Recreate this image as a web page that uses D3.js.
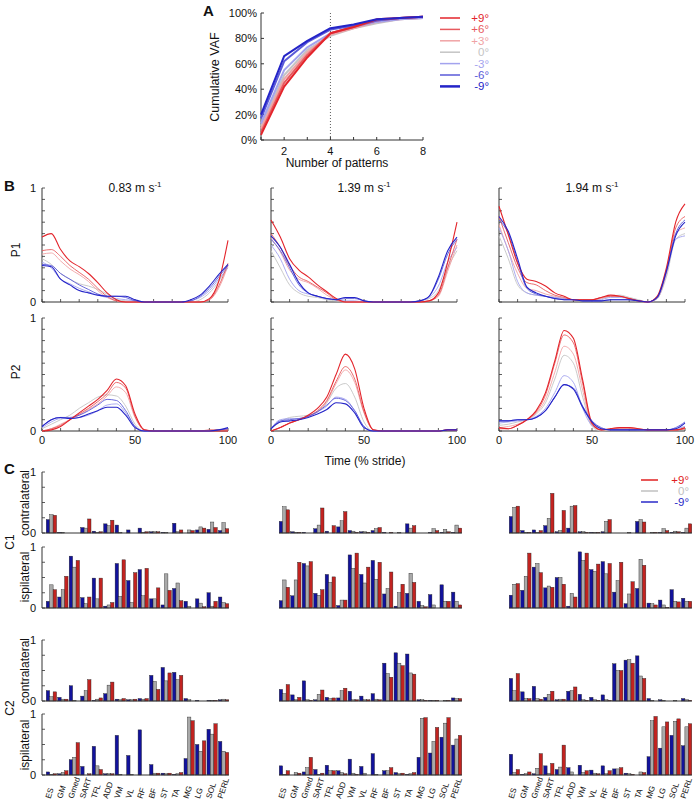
<!DOCTYPE html>
<html><head><meta charset="utf-8">
<script src="https://cdn.jsdelivr.net/npm/d3@7"></script>
<style>
body{margin:0;background:#fff}
svg{display:block}
text{font-family:"Liberation Sans",Arial,Helvetica,sans-serif;fill:#111}
</style>
</head><body><svg id="chart" width="698" height="802"></svg>
<script>
// ---------------- DATA ----------------
const conditions = ["+9°","+6°","+3°","0°","-3°","-6°","-9°"];
const condColors = ["#e3242b","#e75a5e","#f0a3a5","#c4c4c4","#a3a3ee","#5a5ad8","#2424c8"];

// Panel A: cumulative VAF (%) vs number of patterns
const patterns = [1,2,3,4,5,6,7,8];
const vafP9 = [4,42,65,84,89,95,96,97];
const vafP6 = [6,45,67,84,89,94,96,97];
const vafP3 = [9,48,69,83,88,93,95,96];
const vaf0  = [11,51,71,82,88,92,95,96];
const vafM3 = [13,55,73,84,89,93,95,96];
const vafM6 = [17,62,77,87,90,94,96,97];
const vafM9 = [20,66,78,88,91,95,96,97];
const vafYTicks = [0,20,40,60,80,100];
const vafXTicks = [2,4,6,8];

// Panel B: pattern activations, rows = +9,+6,+3,0,-3,-6,-9
const timePct = [0,5,10,15,20,25,30,35,40,45,50,55,60,65,70,75,80,85,90,95,100];
const speeds = ["0.83","1.39","1.94"];
const p1_083 = [
 [0.57,0.60,0.46,0.36,0.31,0.25,0.17,0.08,0.02,0,0,0,0,0,0,0,0,0,0.03,0.18,0.54],
 [0.45,0.46,0.40,0.32,0.26,0.20,0.12,0.05,0.01,0,0,0,0,0,0,0,0,0,0.02,0.14,0.34],
 [0.42,0.43,0.36,0.29,0.24,0.18,0.10,0.04,0.01,0,0,0,0,0,0,0,0,0,0.02,0.12,0.32],
 [0.38,0.33,0.25,0.20,0.16,0.14,0.11,0.07,0.02,0.01,0,0,0,0,0,0,0,0.02,0.08,0.18,0.32],
 [0.35,0.30,0.20,0.16,0.12,0.09,0.06,0.04,0.03,0.02,0.01,0,0,0,0,0,0.01,0.04,0.10,0.20,0.30],
 [0.33,0.32,0.25,0.20,0.15,0.11,0.07,0.05,0.05,0.04,0.01,0,0,0,0,0,0.01,0.05,0.12,0.22,0.32],
 [0.32,0.31,0.20,0.15,0.10,0.08,0.06,0.05,0.05,0.05,0.02,0,0,0,0,0,0.02,0.06,0.14,0.24,0.33]];
const p2_083 = [
 [0,0.01,0.04,0.10,0.16,0.22,0.28,0.36,0.46,0.40,0.15,0.01,0,0,0,0,0,0,0,0,0],
 [0,0.02,0.05,0.10,0.15,0.20,0.26,0.33,0.43,0.38,0.13,0.01,0,0,0,0,0,0,0.01,0.01,0.01],
 [0,0.02,0.06,0.10,0.14,0.19,0.24,0.31,0.39,0.34,0.12,0.01,0,0,0,0,0,0,0,0.01,0.01],
 [0.02,0.06,0.10,0.14,0.20,0.25,0.30,0.32,0.31,0.22,0.06,0,0,0,0,0,0,0,0,0.01,0.01],
 [0.03,0.08,0.11,0.11,0.12,0.14,0.18,0.23,0.24,0.16,0.04,0,0,0,0,0,0,0,0,0.01,0.02],
 [0.04,0.10,0.12,0.12,0.14,0.18,0.23,0.28,0.27,0.18,0.04,0,0,0,0,0,0,0,0,0.01,0.02],
 [0.04,0.10,0.12,0.11,0.12,0.15,0.18,0.21,0.21,0.14,0.03,0,0,0,0,0,0,0,0,0.01,0.03]];
const p1_139 = [
 [0.72,0.57,0.38,0.28,0.22,0.15,0.09,0.03,0,0,0,0,0,0,0,0,0,0.01,0.08,0.35,0.70],
 [0.60,0.48,0.32,0.22,0.18,0.13,0.08,0.02,0,0,0,0,0,0,0,0,0,0.01,0.06,0.30,0.55],
 [0.56,0.44,0.28,0.20,0.17,0.12,0.06,0.02,0,0,0,0,0,0,0,0,0,0.01,0.05,0.27,0.50],
 [0.45,0.30,0.15,0.08,0.05,0.04,0.02,0.01,0,0,0,0,0,0,0,0,0.01,0.03,0.10,0.30,0.45],
 [0.50,0.38,0.20,0.10,0.07,0.05,0.03,0.02,0.01,0.01,0,0,0,0,0,0,0.01,0.04,0.14,0.35,0.48],
 [0.55,0.45,0.30,0.15,0.08,0.05,0.03,0.02,0.03,0.03,0.01,0,0,0,0,0,0.01,0.05,0.20,0.42,0.55],
 [0.58,0.48,0.33,0.17,0.08,0.05,0.03,0.02,0.04,0.04,0.01,0,0,0,0,0,0.01,0.05,0.22,0.45,0.57]];
const p2_139 = [
 [0,0.03,0.07,0.10,0.14,0.20,0.30,0.50,0.68,0.55,0.20,0.01,0,0,0,0,0,0,0,0.01,0.01],
 [0,0.03,0.07,0.10,0.13,0.18,0.27,0.44,0.57,0.46,0.17,0.01,0,0,0,0,0,0,0,0.01,0.01],
 [0,0.03,0.07,0.10,0.13,0.17,0.26,0.42,0.54,0.43,0.16,0.01,0,0,0,0,0,0,0,0.01,0.01],
 [0.02,0.08,0.12,0.13,0.14,0.17,0.25,0.38,0.42,0.30,0.08,0,0,0,0,0,0,0,0,0.01,0.01],
 [0.02,0.10,0.11,0.11,0.13,0.17,0.22,0.30,0.28,0.18,0.04,0,0,0,0,0,0,0,0,0.01,0.01],
 [0.02,0.09,0.10,0.11,0.13,0.17,0.23,0.29,0.27,0.18,0.04,0,0,0,0,0,0,0,0,0.01,0.01],
 [0.02,0.08,0.09,0.10,0.12,0.15,0.19,0.25,0.24,0.16,0.03,0,0,0,0,0,0,0,0,0.01,0.01]];
const p1_194 = [
 [0.84,0.59,0.34,0.20,0.18,0.14,0.08,0.05,0.02,0.02,0.02,0.04,0.06,0.05,0.03,0.01,0,0.05,0.30,0.70,0.86],
 [0.75,0.52,0.30,0.17,0.15,0.10,0.06,0.04,0.02,0.02,0.02,0.04,0.05,0.05,0.03,0.01,0,0.04,0.27,0.65,0.75],
 [0.68,0.45,0.25,0.12,0.10,0.07,0.05,0.03,0.02,0.02,0.02,0.03,0.05,0.05,0.03,0.01,0,0.03,0.25,0.60,0.65],
 [0.58,0.38,0.15,0.08,0.06,0.05,0.04,0.03,0.02,0.02,0.01,0.03,0.05,0.06,0.04,0.02,0,0.03,0.22,0.55,0.60],
 [0.65,0.45,0.18,0.08,0.06,0.05,0.04,0.03,0.02,0.02,0.01,0.02,0.04,0.04,0.03,0.01,0,0.03,0.25,0.55,0.58],
 [0.72,0.60,0.35,0.12,0.07,0.05,0.03,0.02,0.02,0.01,0.01,0.01,0.02,0.02,0.02,0.01,0,0.04,0.28,0.60,0.72],
 [0.75,0.62,0.38,0.13,0.08,0.05,0.03,0.02,0.02,0.01,0.01,0.01,0.02,0.02,0.02,0.01,0,0.04,0.27,0.58,0.70]];
const p2_194 = [
 [0.03,0.02,0.05,0.10,0.18,0.34,0.62,0.89,0.82,0.45,0.07,0.01,0.02,0.03,0.03,0.02,0.01,0.01,0.01,0.01,0.03],
 [0.02,0.02,0.05,0.10,0.17,0.32,0.60,0.85,0.78,0.42,0.06,0.01,0.02,0.03,0.03,0.02,0.01,0.01,0.01,0.01,0.02],
 [0.03,0.04,0.06,0.10,0.16,0.28,0.52,0.75,0.68,0.36,0.05,0.01,0.01,0.02,0.02,0.01,0.01,0.01,0.01,0.01,0.02],
 [0.05,0.06,0.08,0.10,0.15,0.25,0.46,0.67,0.60,0.30,0.04,0,0.01,0.02,0.02,0.01,0.01,0.01,0.01,0.01,0.02],
 [0.07,0.08,0.09,0.10,0.13,0.20,0.34,0.49,0.43,0.20,0.05,0.02,0.01,0.01,0.01,0.01,0.01,0.01,0.01,0.02,0.04],
 [0.09,0.09,0.10,0.10,0.12,0.18,0.30,0.41,0.38,0.22,0.09,0.03,0.01,0.01,0.01,0.01,0.01,0.01,0.01,0.03,0.08],
 [0.09,0.09,0.10,0.10,0.12,0.18,0.30,0.41,0.37,0.21,0.08,0.02,0.01,0.01,0.01,0.01,0.01,0.01,0.01,0.02,0.07]];

// Panel C: muscle weightings; each = [-9° (blue), 0° (gray), +9° (red)]
const muscles = ["ES","GM","Gmed","SART","TFL","ADD","VM","VL","RF","BF","ST","TA","MG","LG","SOL","PERL"];
const barConds = ["-9°","0°","+9°"];
const c1Contra_083 = [
 [0.22,0.01,0,0.09,0.03,0.15,0.13,0.05,0.08,0.02,0.01,0.16,0,0.05,0.06,0.04],
 [0.30,0.01,0,0.08,0.01,0.12,0.01,0,0.01,0.02,0.01,0.02,0.05,0.10,0.18,0.17],
 [0.29,0,0,0.23,0.02,0.21,0,0,0.02,0.02,0,0.05,0.04,0.08,0.09,0.07]];
const c1Ipsi_083 = [
 [0.11,0.18,0.85,0.17,0.49,0.03,0.73,0.45,0.63,0.15,0.05,0.32,0.11,0.15,0.25,0.18],
 [0.38,0.30,0.67,0.07,0.15,0.05,0.19,0.09,0.20,0.15,0.56,0.41,0.03,0.08,0.03,0.09],
 [0.30,0.52,0.78,0.18,0.49,0.09,0.79,0.58,0.65,0.33,0.29,0.12,0,0.02,0.11,0.07]];
const c2Contra_083 = [
 [0.17,0.06,0.25,0.08,0.01,0.12,0.03,0.02,0.04,0.42,0.55,0.47,0.04,0.01,0.01,0.02],
 [0.07,0.03,0.01,0.17,0.03,0.26,0.02,0.02,0.03,0.32,0.33,0.35,0.02,0,0.01,0.03],
 [0.15,0.03,0,0.35,0.05,0.31,0.04,0.03,0.04,0.19,0.46,0.42,0,0,0.01,0.02]];
const c2Ipsi_083 = [
 [0.05,0.02,0.25,0.14,0.47,0.02,0.65,0.32,0.74,0.17,0.03,0.01,0.27,0.50,0.75,0.55],
 [0.01,0.04,0.29,0,0.15,0.02,0.01,0.01,0,0.03,0.02,0.02,0.95,0.39,0.67,0.39],
 [0.02,0.07,0.53,0.02,0.09,0.02,0,0,0,0.03,0.03,0.04,0.89,0.56,0.84,0.37]];
const c1Contra_139 = [
 [0.19,0.02,0.01,0.07,0.03,0.10,0.04,0.02,0.04,0.01,0,0.15,0,0.01,0.01,0.01],
 [0.43,0.01,0,0.13,0,0.20,0.03,0.02,0.07,0,0.01,0.08,0,0.07,0.06,0.13],
 [0.38,0.01,0,0.41,0.12,0.35,0.01,0.01,0.09,0.01,0,0.12,0,0.04,0.02,0.08]];
const c1Ipsi_139 = [
 [0.12,0.20,0.73,0.24,0.55,0.04,0.87,0.55,0.78,0.23,0.03,0.24,0.11,0.22,0.38,0.26],
 [0.46,0.46,0.69,0.21,0.42,0.13,0.65,0.41,0.47,0.32,0.25,0.57,0.04,0.05,0.11,0.11],
 [0.34,0.75,0.76,0.30,0.51,0.13,0.90,0.67,0.75,0.59,0.39,0.42,0.02,0,0.11,0.05]];
const c2Contra_139 = [
 [0.19,0.10,0.33,0.02,0.06,0.05,0.16,0.08,0.12,0.62,0.79,0.77,0.02,0.01,0,0.05],
 [0.12,0.02,0.02,0.11,0.04,0.17,0.02,0.02,0.03,0.45,0.62,0.46,0.02,0.01,0.01,0.04],
 [0.27,0.06,0.01,0.18,0.05,0.21,0.02,0.02,0.02,0.39,0.58,0.44,0.01,0.01,0.01,0.04]];
const c2Ipsi_139 = [
 [0.15,0,0.05,0.09,0.16,0.07,0.26,0.14,0.35,0.07,0.04,0.01,0.29,0.36,0.62,0.49],
 [0.01,0.04,0.12,0.01,0.07,0.04,0.03,0.03,0.01,0.07,0.02,0.02,0.93,0.55,0.85,0.59],
 [0.07,0.03,0.29,0.03,0.07,0.02,0.01,0,0,0.12,0.03,0.04,0.94,0.78,0.94,0.65]];
const c1Contra_194 = [
 [0.27,0.04,0.05,0.12,0.02,0.08,0.02,0.01,0.02,0,0,0.19,0,0.01,0.01,0.01],
 [0.42,0.01,0.01,0.24,0.04,0.44,0.02,0.01,0.19,0,0.01,0.22,0.01,0.07,0.03,0.08],
 [0.44,0.01,0.04,0.65,0.37,0.45,0.01,0.01,0.22,0,0,0.18,0.01,0.04,0.02,0.15]];
const c1Ipsi_194 = [
 [0.21,0.29,0.67,0.33,0.50,0.03,0.92,0.63,0.76,0.26,0.07,0.32,0.08,0.13,0.30,0.16],
 [0.39,0.52,0.73,0.36,0.50,0.24,0.78,0.60,0.56,0.45,0.23,0.80,0.07,0.05,0.11,0.11],
 [0.40,0.90,0.58,0.34,0.39,0.18,0.90,0.72,0.73,0.75,0.43,0.70,0.05,0.01,0.10,0.11]];
const c2Contra_194 = [
 [0.37,0.15,0.24,0.06,0.02,0.16,0.11,0.06,0.10,0.61,0.67,0.74,0.04,0.02,0,0.04],
 [0.17,0.04,0.04,0.11,0.03,0.17,0.02,0.02,0.02,0.50,0.68,0.41,0.01,0.01,0.01,0.02],
 [0.45,0.04,0.03,0.16,0.03,0.23,0.01,0.01,0.01,0.50,0.62,0.37,0,0,0,0.01]];
const c2Ipsi_194 = [
 [0.34,0.01,0.02,0.15,0.09,0.12,0.16,0.08,0.15,0.10,0.03,0,0.30,0.44,0.65,0.48],
 [0.04,0.02,0.11,0.03,0.13,0.05,0.04,0.03,0.02,0.10,0.02,0.05,0.89,0.79,0.88,0.79],
 [0.09,0.05,0.35,0.19,0.49,0,0.07,0.02,0.07,0.12,0.01,0.04,0.96,0.87,0.92,0.84]];

// ---------------- DRAWING ----------------
const svg = d3.select("#chart");
svg.append("rect").attr("width",698).attr("height",802).attr("fill","#fff");
const AX = "#333";

function txt(g, x, y, s, opt={}) {
  const t = g.append("text").attr("x",x).attr("y",y).text(s)
    .attr("font-size", opt.size || 11)
    .attr("text-anchor", opt.anchor || "start");
  if (opt.weight) t.attr("font-weight", opt.weight);
  if (opt.fill) t.style("fill", opt.fill);
  if (opt.rotate !== undefined) t.attr("transform", `rotate(${opt.rotate},${x},${y})`);
  return t;
}

// ===== Panel A =====
{
  const g = svg.append("g");
  const x = d3.scaleLinear().domain([1,8]).range([261,423]);
  const y = d3.scaleLinear().domain([0,100]).range([140,13]);
  const vafSeries = [vafP9,vafP6,vafP3,vaf0,vafM3,vafM6,vafM9];
  g.append("line").attr("x1",x(1)).attr("x2",x(1)).attr("y1",y(100)).attr("y2",y(0)).attr("stroke",AX);
  g.append("line").attr("x1",x(1)).attr("x2",x(8)).attr("y1",y(0)).attr("y2",y(0)).attr("stroke",AX);
  vafYTicks.forEach(v=>{
    g.append("line").attr("x1",x(1)).attr("x2",x(1)+3).attr("y1",y(v)).attr("y2",y(v)).attr("stroke",AX);
    txt(g, x(1)-4, y(v)+4, v+"%", {anchor:"end", size:11});
  });
  patterns.forEach(p=>{
    g.append("line").attr("x1",x(p)).attr("x2",x(p)).attr("y1",y(0)).attr("y2",y(0)-3).attr("stroke",AX);
  });
  vafXTicks.forEach(p=> txt(g, x(p), 155, p, {anchor:"middle", size:11}));
  g.append("line").attr("x1",x(4)).attr("x2",x(4)).attr("y1",y(100)).attr("y2",y(0))
    .attr("stroke","#333").attr("stroke-width",0.8).attr("stroke-dasharray","1,2");
  const line = d3.line().x((d,i)=>x(patterns[i])).y(d=>y(d));
  const order = [3,2,4,1,5,0,6];
  order.forEach(i=>{
    g.append("path").attr("d",line(vafSeries[i])).attr("fill","none")
      .attr("stroke",condColors[i]).attr("stroke-width",2).attr("stroke-linejoin","round");
  });
  txt(g, 337, 167, "Number of patterns", {anchor:"middle", size:12});
  txt(g, 219, 77, "Cumulative VAF", {anchor:"middle", size:12.5, rotate:-90});
  txt(g, 203, 16, "A", {size:15, weight:"bold"});
  conditions.forEach((c,i)=>{
    const ly = 18 + i*11.4;
    g.append("line").attr("x1",440).attr("x2",460).attr("y1",ly).attr("y2",ly)
      .attr("stroke",condColors[i]).attr("stroke-width",i===6?2.5:1.5);
    txt(g, 489, ly+4, c, {anchor:"end", size:11.5, fill:condColors[i]});
  });
}

// ===== Panel B =====
const colX = [42, 271, 499];
const colW = 186;
const bRows = [{top:188, bot:302, data:[p1_083,p1_139,p1_194]},
               {top:318, bot:431, data:[p2_083,p2_139,p2_194]}];
bRows.forEach((row, ri)=>{
  speeds.forEach((sp, ci)=>{
    const g = svg.append("g");
    const x = d3.scaleLinear().domain([0,100]).range([colX[ci], colX[ci]+colW]);
    const y = d3.scaleLinear().domain([0,1]).range([row.bot, row.top]);
    g.append("line").attr("x1",x(0)).attr("x2",x(0)).attr("y1",y(1)).attr("y2",y(0)).attr("stroke",AX);
    g.append("line").attr("x1",x(0)).attr("x2",x(100)).attr("y1",y(0)).attr("y2",y(0)).attr("stroke",AX);
    d3.range(0,1.0001,0.1).forEach(v=>{
      g.append("line").attr("x1",x(0)).attr("x2",x(0)+3).attr("y1",y(v)).attr("y2",y(v)).attr("stroke",AX).attr("stroke-width",0.8);
    });
    d3.range(0,100.01,10).forEach(v=>{
      g.append("line").attr("x1",x(v)).attr("x2",x(v)).attr("y1",y(0)).attr("y2",y(0)-3).attr("stroke",AX).attr("stroke-width",0.8);
    });
    if (ci===0) {
      txt(g, x(0)-6, y(1)+4, "1", {anchor:"end", size:11});
      txt(g, x(0)-6, y(0)+4, "0", {anchor:"end", size:11});
    }
    if (ri===1) {
      [0,50,100].forEach(v=> txt(g, x(v), 444, v, {anchor:"middle", size:11}));
    } else {
      const t = txt(g, x(50), 192, sp+" m s", {anchor:"middle", size:12});
      t.append("tspan").attr("dy",-5).attr("font-size",8).text("-1");
    }
    const line = d3.line().x((d,i)=>x(timePct[i])).y(d=>y(d)).curve(d3.curveMonotoneX);
    const order = [3,2,4,1,5,0,6];
    order.forEach(k=>{
      g.append("path").attr("d", line(row.data[ci][k])).attr("fill","none")
        .attr("stroke", condColors[k]).attr("stroke-width", (k===0||k===6)?1.1:0.9);
    });
  });
});
txt(svg, 20, 250, "P1", {anchor:"middle", size:12, rotate:-90});
txt(svg, 20, 372, "P2", {anchor:"middle", size:12, rotate:-90});
txt(svg, 4, 191, "B", {size:15, weight:"bold"});
txt(svg, 365, 465, "Time (% stride)", {anchor:"middle", size:12});

// ===== Panel C =====
const barColors = ["#12129c","#a9a9a9","#c22320"];
const barX = [46, 279, 509];
const barW = 183;
const cRows = [
  {top:472, bot:533, data:[c1Contra_083,c1Contra_139,c1Contra_194]},
  {top:547, bot:608, data:[c1Ipsi_083,c1Ipsi_139,c1Ipsi_194]},
  {top:640, bot:701, data:[c2Contra_083,c2Contra_139,c2Contra_194]},
  {top:714, bot:775, data:[c2Ipsi_083,c2Ipsi_139,c2Ipsi_194]}];
cRows.forEach((row, ri)=>{
  [0,1,2].forEach(ci=>{
    const g = svg.append("g");
    const x = d3.scaleBand().domain(muscles).range([barX[ci], barX[ci]+barW]).paddingInner(0.1).paddingOuter(0.02);
    const xs = d3.scaleBand().domain(barConds).range([0, x.bandwidth()]);
    const y = d3.scaleLinear().domain([0,1]).range([row.bot, row.top]);
    const ds = row.data[ci];
    barConds.forEach((bc, bi)=>{
      g.selectAll(null).data(ds[bi]).enter().append("rect")
        .attr("x",(d,i)=>x(muscles[i])+xs(bc))
        .attr("width", xs.bandwidth())
        .attr("y", d=>y(d))
        .attr("height", d=>y(0)-y(d))
        .attr("fill", barColors[bi])
        .attr("stroke","#222").attr("stroke-width",0.4);
    });
    const x0 = ci===0 ? 42 : barX[ci];
    g.append("line").attr("x1",x0).attr("x2",barX[ci]+barW).attr("y1",y(0)).attr("y2",y(0)).attr("stroke",AX);
    if (ci===0) {
      g.append("line").attr("x1",42).attr("x2",42).attr("y1",y(1)).attr("y2",y(0)).attr("stroke",AX);
      [0,0.25,0.5,0.75,1].forEach(v=>{
        g.append("line").attr("x1",42).attr("x2",45).attr("y1",y(v)).attr("y2",y(v)).attr("stroke",AX).attr("stroke-width",0.8);
      });
      txt(g, 36, y(1)+4, "1", {anchor:"end", size:11});
      txt(g, 36, y(0)+4, "0", {anchor:"end", size:11});
    }
    if (ri===3) {
      muscles.forEach(m=>{
        const cx = x(m) + x.bandwidth()/2 - 1;
        g.append("text").attr("transform",`translate(${cx},799) rotate(-72)`)
          .attr("text-anchor","start").attr("font-size",8).text(m);
      });
    }
  });
});
txt(svg, 4, 474, "C", {size:15, weight:"bold"});
txt(svg, 29, 503, "contralateral", {anchor:"middle", size:12, rotate:-90});
txt(svg, 29, 577, "ispilateral", {anchor:"middle", size:12, rotate:-90});
txt(svg, 29, 671, "contralateral", {anchor:"middle", size:12, rotate:-90});
txt(svg, 29, 745, "ispilateral", {anchor:"middle", size:12, rotate:-90});
txt(svg, 14, 542, "C1", {anchor:"middle", size:12, rotate:-90});
txt(svg, 14, 708, "C2", {anchor:"middle", size:12, rotate:-90});
const legC = [{t:"+9°",c:"#e02020"},{t:"0°",c:"#c0c0c0"},{t:"-9°",c:"#2a2ac8"}];
legC.forEach((d,i)=>{
  const ly = 480 + i*11;
  svg.append("line").attr("x1",641).attr("x2",658).attr("y1",ly).attr("y2",ly).attr("stroke",d.c).attr("stroke-width",1.5);
  txt(svg, 689, ly+4, d.t, {anchor:"end", size:11.5, fill:d.c});
});
</script>
</body></html>
